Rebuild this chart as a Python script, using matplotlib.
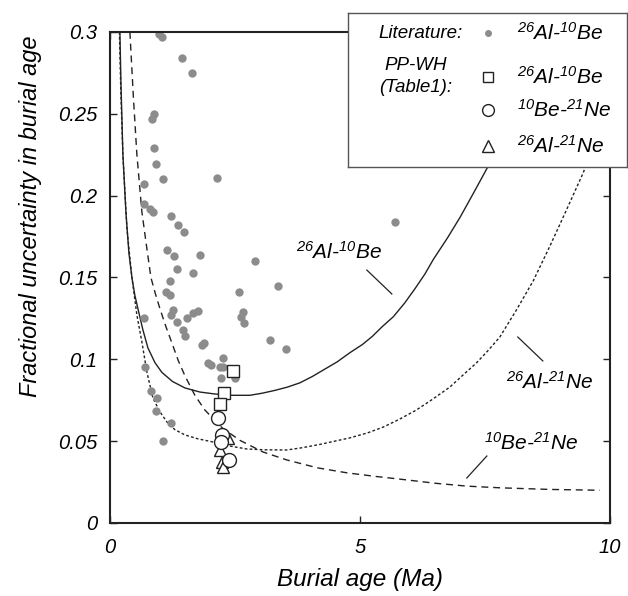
import numpy as np
import matplotlib.pyplot as plt

plt.rcParams['font.family'] = ['Liberation Sans', 'DejaVu Sans']
plt.rcParams['font.style'] = 'italic'
plt.rcParams['mathtext.fontset'] = 'custom'
plt.rcParams['mathtext.rm'] = 'Liberation Sans:italic'
plt.rcParams['mathtext.it'] = 'Liberation Sans:italic'

# literature 26Al-10Be burial ages (Ma) and fractional uncertainties
lit_age = [0.99, 1.04, 1.44, 1.64, 0.88, 0.84, 0.88, 0.92, 2.14, 1.06,
           0.68, 0.68, 0.80, 0.86, 1.22, 1.36, 1.48, 1.14, 1.28, 1.80,
           1.34, 1.66, 1.20, 1.12, 1.20, 0.68, 1.26, 1.22, 1.34, 1.54,
           1.66, 1.76, 1.46, 1.50, 1.84, 1.88, 1.96, 2.02, 2.26, 2.20,
           2.26, 0.70, 2.22, 2.50, 0.82, 0.94, 0.92, 1.22, 1.06, 2.90,
           3.37, 2.59, 2.67, 2.63, 2.69, 3.20, 3.53, 5.71]
lit_unc = [0.299, 0.297, 0.284, 0.275, 0.250, 0.247, 0.229, 0.219, 0.211, 0.210,
           0.207, 0.195, 0.192, 0.190, 0.1875, 0.182, 0.178, 0.167, 0.163, 0.164,
           0.155, 0.153, 0.148, 0.141, 0.139, 0.125, 0.130, 0.127, 0.123, 0.125,
           0.128, 0.1295, 0.118, 0.114, 0.109, 0.110, 0.098, 0.0965, 0.101, 0.0955,
           0.0955, 0.0955, 0.0886, 0.0886, 0.0806, 0.0764, 0.0684, 0.061, 0.050, 0.160,
           0.145, 0.141, 0.129, 0.126, 0.122, 0.112, 0.106, 0.184]

# PP-WH (Table 1)
albe_age = [2.47, 2.29, 2.20]
albe_unc = [0.0929, 0.0794, 0.0727]
bene_age = [2.17, 2.24, 2.22, 2.38]
bene_unc = [0.0641, 0.0538, 0.0495, 0.0385]
alne_age = [2.36, 2.20, 2.24, 2.26]
alne_unc = [0.052, 0.0446, 0.0373, 0.034]

# model curves
c_albe_x = [0.20, 0.22, 0.26, 0.32, 0.38, 0.44, 0.50, 0.56, 0.66, 0.76,
            0.90, 1.04, 1.25, 1.50, 1.80, 2.10, 2.45, 2.80, 3.05, 3.30,
            3.55, 3.80, 4.05, 4.30, 4.55, 4.80, 5.05, 5.25, 5.45, 5.67,
            5.90, 6.10, 6.30, 6.47, 6.75, 7.01, 7.30, 7.55, 8.10, 8.70]
c_albe_y = [0.300, 0.270, 0.225, 0.190, 0.165, 0.150, 0.139, 0.131, 0.118, 0.107,
            0.098, 0.092, 0.0865, 0.0825, 0.080, 0.0788, 0.078, 0.078, 0.0793, 0.081,
            0.083, 0.0856, 0.0895, 0.094, 0.0985, 0.104, 0.109, 0.114, 0.120, 0.126,
            0.1345, 0.143, 0.152, 0.161, 0.174, 0.187, 0.203, 0.217, 0.255, 0.300]
c_bene_x = [0.40, 0.47, 0.54, 0.64, 0.72, 0.82, 0.91, 1.00, 1.12, 1.24,
            1.37, 1.50, 1.70, 1.90, 2.25, 2.60, 3.06, 3.54, 4.15, 4.75,
            5.30, 5.80, 6.50, 7.15, 7.80, 8.80, 9.80]
c_bene_y = [0.300, 0.260, 0.225, 0.190, 0.172, 0.150, 0.140, 0.131, 0.120, 0.110,
            0.099, 0.090, 0.078, 0.069, 0.058, 0.0505, 0.0434, 0.0385, 0.0337, 0.0306,
            0.0285, 0.0268, 0.0243, 0.0225, 0.0215, 0.0205, 0.020]
c_alne_x = [0.19, 0.22, 0.26, 0.34, 0.44, 0.54, 0.64, 0.74, 0.86, 1.00,
            1.14, 1.30, 1.50, 1.75, 2.06, 2.40, 2.74, 3.10, 3.54, 3.85,
            4.20, 4.50, 4.80, 5.15, 5.47, 5.80, 6.13, 6.45, 6.80, 7.05,
            7.33, 7.57, 7.80, 8.13, 8.47, 8.80, 9.13, 9.47, 10.0]
c_alne_y = [0.300, 0.262, 0.225, 0.180, 0.150, 0.127, 0.1106, 0.0922, 0.0764, 0.068,
            0.0617, 0.057, 0.0538, 0.0515, 0.0495, 0.047, 0.0452, 0.0447, 0.0446, 0.046,
            0.048, 0.050, 0.052, 0.055, 0.0586, 0.0635, 0.069, 0.0755, 0.083, 0.090,
            0.0977, 0.1055, 0.1136, 0.130, 0.148, 0.169, 0.191, 0.214, 0.260]

fig = plt.figure(figsize=(6.28, 5.96), dpi=100)
ax = fig.add_axes([0.175, 0.1225, 0.796, 0.824])

ax.plot(c_albe_x, c_albe_y, color='#222222', lw=1.0, ls='-')
ax.plot(c_bene_x, c_bene_y, color='#222222', lw=1.0, ls=(0, (5, 3.5)))
ax.plot(c_alne_x, c_alne_y, color='#222222', lw=1.0, ls=(0, (2, 1.6)))

ax.plot(lit_age, lit_unc, 'o', color='#8c8c8c', ms=6, mec='none')
ax.plot(albe_age, albe_unc, 's', mfc='white', mec='#222222', ms=9, mew=1.0)
ax.plot(alne_age, alne_unc, '^', mfc='white', mec='#222222', ms=9, mew=1.0)
ax.plot(bene_age, bene_unc, 'o', mfc='white', mec='#222222', ms=10, mew=1.0)

# curve labels with leader lines
ax.text(4.59, 0.1655, r'$^{26}$Al-$^{10}$Be', fontsize=15, ha='center', va='center')
ax.plot([5.14, 5.64], [0.1545, 0.1399], color='#222222', lw=0.9)
ax.text(8.8, 0.0861, r'$^{26}$Al-$^{21}$Ne', fontsize=15, ha='center', va='center')
ax.plot([8.16, 8.66], [0.1136, 0.099], color='#222222', lw=0.9)
ax.text(8.42, 0.0489, r'$^{10}$Be-$^{21}$Ne', fontsize=15, ha='center', va='center')
ax.plot([7.54, 7.14], [0.0409, 0.0275], color='#222222', lw=0.9)

ax.set_xlim(0, 10)
ax.set_ylim(0, 0.3)
ax.set_xticks([0, 5, 10])
ax.set_xticklabels(['0', '5', '10'])
ax.set_yticks([0, 0.05, 0.1, 0.15, 0.2, 0.25, 0.3])
ax.set_yticklabels(['0', '0.05', '0.1', '0.15', '0.2', '0.25', '0.3'])
ax.tick_params(direction='in', length=5, width=1.0, labelsize=14.5,
               top=True, right=True, color='#222222')
ax.tick_params(axis='x', pad=11)
ax.tick_params(axis='y', pad=9)
for s in ax.spines.values():
    s.set_linewidth(1.5)
    s.set_color('#222222')

ax.set_xlabel('Burial age (Ma)', fontsize=17.5)
ax.set_ylabel('Fractional uncertainty in burial age', fontsize=17)
ax.xaxis.set_label_coords(0.5, -0.092)
ax.yaxis.set_label_coords(-0.135, 0.625)

# legend box drawn as an overlaid panel
lg = fig.add_axes([0.554, 0.72, 0.444, 0.258])
lg.set_xlim(0, 1)
lg.set_ylim(0, 1)
lg.set_xticks([])
lg.set_yticks([])
lg.set_facecolor('white')
for s in lg.spines.values():
    s.set_linewidth(1.0)
    s.set_color('#555555')

mx = 0.502
tx = 0.606
lg.text(0.412, 0.870, 'Literature:', fontsize=13.5, ha='right', va='center')
lg.plot([mx], [0.870], 'o', color='#8c8c8c', ms=5, mec='none')
lg.text(tx, 0.870, r'$^{26}$Al-$^{10}$Be', fontsize=15, ha='left', va='center')
lg.text(0.244, 0.662, 'PP-WH', fontsize=13.5, ha='center', va='center')
lg.text(0.244, 0.513, '(Table1):', fontsize=13.5, ha='center', va='center')
lg.plot([mx], [0.584], 's', mfc='white', mec='#222222', ms=7.5, mew=1.0)
lg.text(tx, 0.584, r'$^{26}$Al-$^{10}$Be', fontsize=15, ha='left', va='center')
lg.plot([mx], [0.370], 'o', mfc='white', mec='#222222', ms=8.5, mew=1.0)
lg.text(tx, 0.370, r'$^{10}$Be-$^{21}$Ne', fontsize=15, ha='left', va='center')
lg.plot([mx], [0.136], '^', mfc='white', mec='#222222', ms=8.5, mew=1.0)
lg.text(tx, 0.136, r'$^{26}$Al-$^{21}$Ne', fontsize=15, ha='left', va='center')

fig.savefig('out.png', dpi=100)
